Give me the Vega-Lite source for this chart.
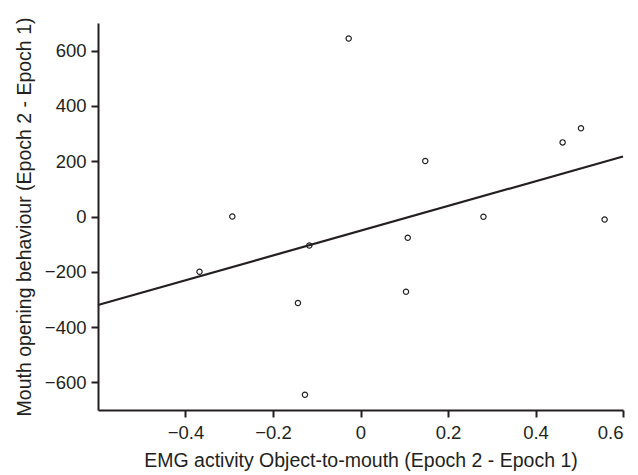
{
  "$schema": "https://vega.github.io/schema/vega-lite/v6.json",
  "autosize": "none",
  "width": 525,
  "height": 387,
  "padding": {"left": 98, "top": 23, "right": 15, "bottom": 65},
  "background": "white",
  "config": {
    "view": {"stroke": null},
    "font": "Liberation Sans",
    "axis": {
      "grid": false,
      "domainColor": "#231f20",
      "domainWidth": 2,
      "tickColor": "#231f20",
      "tickWidth": 2,
      "tickSize": 7,
      "labelFont": "Liberation Sans",
      "labelFontSize": 18.5,
      "labelColor": "#231f20",
      "titleFont": "Liberation Sans",
      "titleFontSize": 19.5,
      "titleFontWeight": "normal",
      "titleColor": "#231f20"
    }
  },
  "datasets": {
    "points": [
      {"emg": -0.368, "mouth": -200},
      {"emg": -0.293, "mouth": 0},
      {"emg": -0.143, "mouth": -313},
      {"emg": -0.127, "mouth": -645},
      {"emg": -0.117, "mouth": -105},
      {"emg": -0.027, "mouth": 644},
      {"emg": 0.104, "mouth": -272},
      {"emg": 0.108, "mouth": -77},
      {"emg": 0.148, "mouth": 201},
      {"emg": 0.281, "mouth": -1},
      {"emg": 0.462, "mouth": 268},
      {"emg": 0.504, "mouth": 319},
      {"emg": 0.558, "mouth": -11}
    ],
    "fit": [
      {"emg": -0.6, "mouth": -320},
      {"emg": 0.6, "mouth": 217}
    ]
  },
  "layer": [
    {
      "data": {"name": "fit"},
      "mark": {"type": "line", "color": "#231f20", "strokeWidth": 2.2},
      "encoding": {
        "x": {"field": "emg", "type": "quantitative"},
        "y": {"field": "mouth", "type": "quantitative"}
      }
    },
    {
      "data": {"name": "points"},
      "mark": {"type": "point", "shape": "circle", "filled": false, "color": "#231f20", "strokeWidth": 1.2, "size": 28, "opacity": 1},
      "encoding": {
        "x": {
          "field": "emg", "type": "quantitative",
          "scale": {"domain": [-0.6, 0.6], "nice": false, "zero": false},
          "axis": {
            "title": "EMG activity Object-to-mouth (Epoch 2 - Epoch 1)",
            "values": [-0.4, -0.2, 0, 0.2, 0.4, 0.6],
            "labelExpr": "replace(datum.label, '-', '\u2212')",
            "format": "",
            "labelPadding": 6,
            "titlePadding": 10
          }
        },
        "y": {
          "field": "mouth", "type": "quantitative",
          "scale": {"domain": [-700, 700], "nice": false, "zero": false},
          "axis": {
            "title": "Mouth opening behaviour (Epoch 2 - Epoch 1)",
            "values": [-600, -400, -200, 0, 200, 400, 600],
            "labelExpr": "replace(datum.label, '-', '\u2212')",
            "format": "d",
            "labelPadding": 5,
            "titlePadding": 10
          }
        }
      }
    }
  ]
}
